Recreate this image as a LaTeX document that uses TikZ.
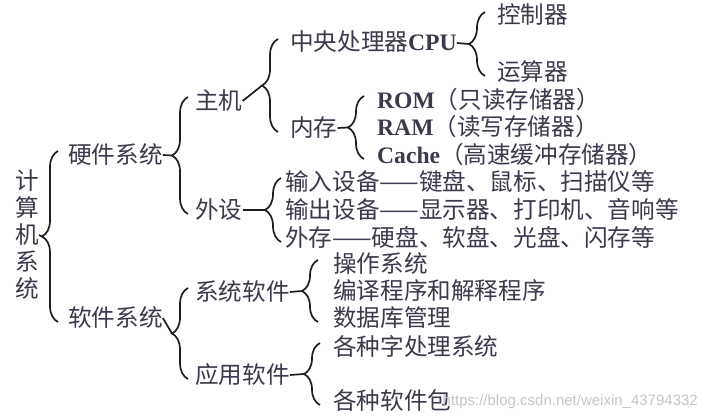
\documentclass[tikz,border=0pt]{standalone}
\usepackage{fontspec}
\setmainfont{Noto Sans CJK SC}
\newfontfamily\latinbf{Liberation Serif}
\newfontfamily\wmfont{Liberation Sans}
\usetikzlibrary{decorations.pathreplacing,calc}
\definecolor{txt}{HTML}{3A3A4C}
\definecolor{ink}{HTML}{1E1E1E}
\newcommand{\en}[1]{{\latinbf\bfseries #1}}

\begin{document}
\begin{tikzpicture}[x=1pt,y=-1pt,
  font=\fontsize{23.6}{27}\selectfont,
  lbl/.style={anchor=west,inner sep=0pt,text=txt,text height=19pt,text depth=3pt},
  br/.style={draw=ink,line width=1.7pt,decorate,decoration={brace,amplitude=16pt}},
  ln/.style={draw=ink,line width=1.7pt}]
\useasboundingbox[fill=white] (0,0) rectangle (709,420);
% root and first level
\node[text=txt,align=center,inner sep=0pt] (jsj) at (27,235) {计\\算\\机\\系\\统};
\node[lbl] (yj) at (68,155) {硬件系统};
\node[lbl] (rj) at (68,318) {软件系统};
% hardware
\node[lbl] (zj) at (195,101) {主机};
\node[lbl] (ws) at (195,210) {外设};
\node[lbl] (cpu) at (290,43) {中央处理器\en{CPU}};
\node[lbl] (nc) at (290,128) {内存};
\node[lbl] (kz) at (497,16) {控制器};
\node[lbl] (ys) at (497,72) {运算器};
\node[lbl] (rom) at (377,100) {\en{ROM}（只读存储器）};
\node[lbl] (ram) at (377,127) {\en{RAM}（读写存储器）};
\node[lbl] (cache) at (377,155) {\en{Cache}（高速缓冲存储器）};
\node[lbl] (sr) at (285,182) {输入设备——键盘、鼠标、扫描仪等};
\node[lbl] (sc) at (285,210) {输出设备——显示器、打印机、音响等};
\node[lbl] (wc) at (285,238) {外存——硬盘、软盘、光盘、闪存等};
% software
\node[lbl] (xt) at (195,292) {系统软件};
\node[lbl] (yy) at (195,375) {应用软件};
\node[lbl] (cz) at (333,264) {操作系统};
\node[lbl] (by) at (333,291) {编译程序和解释程序};
\node[lbl] (sj) at (333,318) {数据库管理};
\node[lbl] (zc) at (333,347) {各种字处理系统};
\node[lbl] (rb) at (333,401) {各种软件包};
\node[text=gray!45,font=\wmfont\fontsize{15}{15}\selectfont,anchor=east,inner sep=0pt] (wm) at (698,402) {https://blog.csdn.net/weixin\_43794332};
% braces: parent/first/last/offset
\foreach \p/\a/\b/\g in {jsj/yj/rj/10, yj/zj/ws/7, zj/cpu/nc/12, cpu/kz/ys/12,
    nc/rom/cache/13, ws/sr/wc/4, rj/xt/yy/7, xt/cz/sj/15, yy/zc/rb/13}{
  \draw[br] ([shift={(-\g,4)}]\b.west) -- ([shift={(-\g,-4)}]\a.west);
  \draw[ln] (\p.east) -- ($(\a.west)!.5!(\b.west)+({-\g-16},0)$);
}
\end{tikzpicture}
\end{document}
